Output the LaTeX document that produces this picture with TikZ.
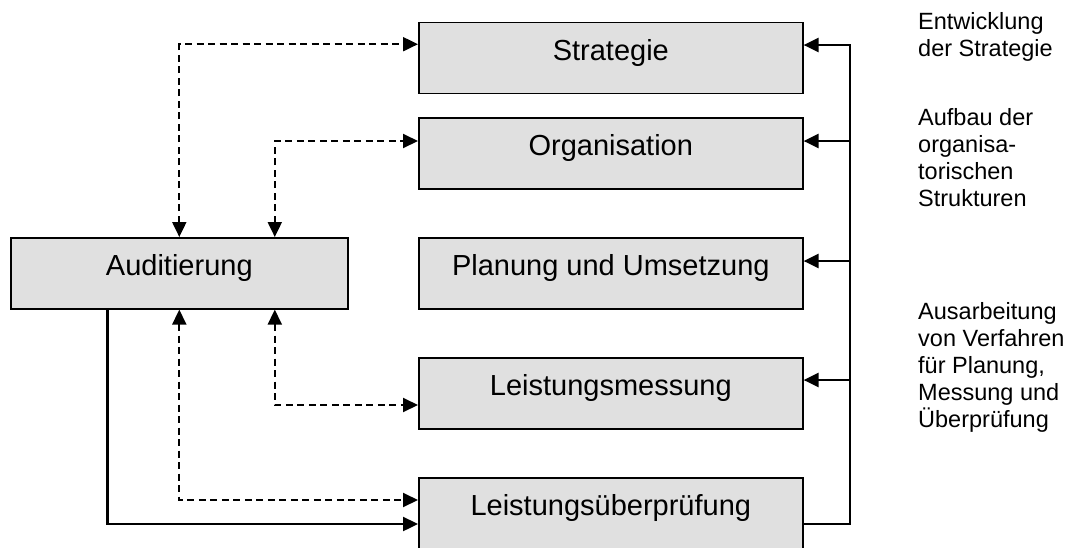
\documentclass[tikz,border=0pt]{standalone}
\usepackage{fontspec}
\setmainfont{Liberation Sans}
\usetikzlibrary{arrows.meta,calc}
\definecolor{boxgray}{RGB}{224,224,224}
\begin{document}
\begin{tikzpicture}[x=1pt,y=-1pt,
  stepbox/.style={draw=black, line width=1.6pt, fill=boxgray, inner sep=0pt,
    minimum width=384pt, minimum height=71pt, anchor=north west,
    font=\fontsize{29}{34}\selectfont, text height=21pt, text depth=16pt},
  sidetext/.style={anchor=north west, inner sep=0pt, align=left,
    font=\fontsize{23.5}{27}\selectfont},
  tip/.style={Triangle[length=15pt,width=14pt]},
  solidline/.style={line width=2.4pt, line cap=rect},
  solidarrow/.style={line width=2.4pt, -{Triangle[length=15pt,width=14pt]}},
  dashedarrow/.style={line width=2pt, dash pattern=on 7pt off 4.5pt,
    {Triangle[length=15pt,width=14pt]}-{Triangle[length=15pt,width=14pt]}}
]
\useasboundingbox (0,0) rectangle (1080,547);

% boxes
\node[stepbox] (str) at (418,21.7) {Strategie};
\node[stepbox] (org) at (418,117) {Organisation};
\node[stepbox] (pla) at (418,237) {Planung und Umsetzung};
\node[stepbox] (lme) at (418,357) {Leistungsmessung};
\node[stepbox] (lue) at (418,477) {Leistungsüberprüfung};
\node[stepbox, minimum width=337pt] (aud) at (10,237) {Auditierung};

% right side texts
\node[sidetext] (t1) at (918,12) {Entwicklung\\der Strategie};
\node[sidetext] (t2) at (918,108) {Aufbau der\\organisa-\\torischen\\Strukturen};
\node[sidetext] (t3) at (918,302) {Ausarbeitung\\von Verfahren\\für Planung,\\Messung und\\Überprüfung};

% right bus
\coordinate (busS) at (850,45);
\coordinate (busO) at (850,141);
\coordinate (busP) at (850,261);
\coordinate (busL) at (850,380);
\coordinate (busB) at (850,524);
\draw[solidline] ([yshift=-47pt]lue.north east) -- (busB) -- (busS);
\draw[solidarrow] (busS) -- (busS -| str.east);
\draw[solidarrow] (busO) -- (busO -| org.east);
\draw[solidarrow] (busP) -- (busP -| pla.east);
\draw[solidarrow] (busL) -- (busL -| lme.east);

% left connectors
\draw[dashedarrow] (aud.north) |- ([yshift=-22.5pt]str.north west);
\draw[dashedarrow] ([xshift=95.5pt]aud.north) |- ([yshift=-24pt]org.north west);
\draw[dashedarrow] ([xshift=95.5pt]aud.south) |- ([yshift=-48pt]lme.north west);
\draw[dashedarrow] (aud.south) |- ([yshift=-23pt]lue.north west);
\draw[solidarrow] ([xshift=-72pt]aud.south) |- ([yshift=-47pt]lue.north west);
\end{tikzpicture}
\end{document}
